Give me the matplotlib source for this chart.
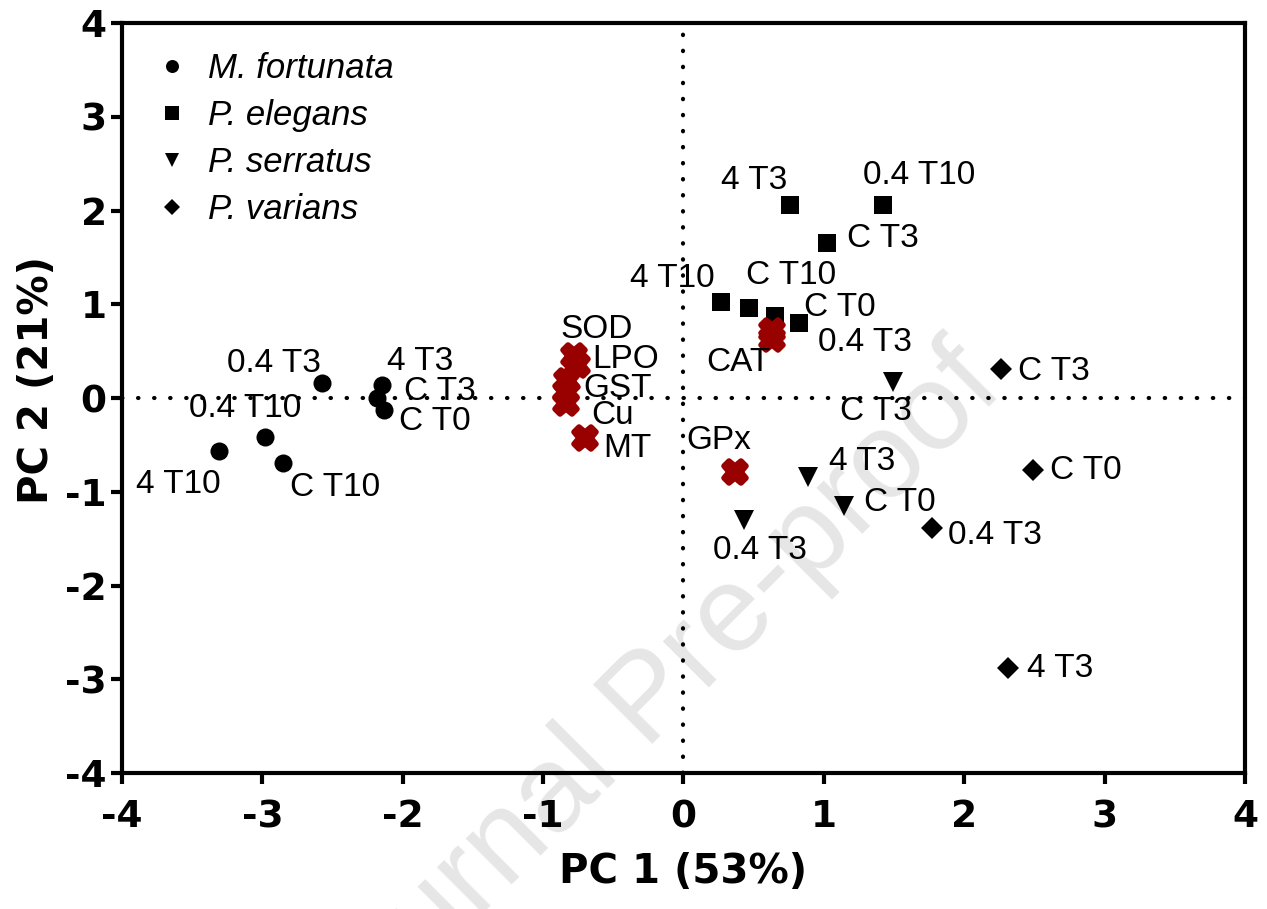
import matplotlib
matplotlib.use("Agg")
import matplotlib.pyplot as plt
from matplotlib.lines import Line2D
from matplotlib.markers import MarkerStyle

plt.rcParams["axes.unicode_minus"] = False

# PCA scores (PC1, PC2) per species
fort_x = [-2.575, -2.15, -2.18, -2.13, -2.98, -3.31, -2.85]
fort_y = [0.16, 0.14, 0.0, -0.13, -0.42, -0.57, -0.69]
fort_lab = ["0.4 T3", "4 T3", "C T3", "C T0", "0.4 T10", "4 T10", "C T10"]

eleg_x = [0.76, 1.42, 1.02, 0.27, 0.47, 0.65, 0.82]
eleg_y = [2.06, 2.06, 1.65, 1.02, 0.96, 0.87, 0.80]
eleg_lab = ["4 T3", "0.4 T10", "C T3", "4 T10", "C T10", "C T0", "0.4 T3"]

serr_x = [1.49, 0.89, 1.14, 0.43]
serr_y = [0.17, -0.84, -1.15, -1.30]
serr_lab = ["C T3", "4 T3", "C T0", "0.4 T3"]

vari_x = [2.26, 2.49, 1.77, 2.31]
vari_y = [0.31, -0.77, -1.39, -2.88]
vari_lab = ["C T3", "C T0", "0.4 T3", "4 T3"]

# variable loadings
var_x = [-0.78, -0.76, -0.83, -0.84, -0.84, -0.70, 0.63, 0.63, 0.37]
var_y = [0.45, 0.35, 0.18, 0.06, -0.05, -0.43, 0.71, 0.63, -0.79]
var_lab = ["SOD", "LPO", "GST", "", "Cu", "MT", "", "CAT", "GPx"]

# label placement (ha, dx px, dy px)
fort_pos = [("center", -48, 20), ("left", 5, 23), ("left", 27, 7), ("left", 15, -11),
            ("center", -20, 29), ("center", -41, -33), ("left", 7, -25)]
eleg_pos = [("right", -3, 24), ("center", 36, 29), ("left", 20, 5), ("right", -7, 24),
            ("center", 42, 33), ("left", 29, 9), ("left", 19, -19)]
serr_pos = [("center", -17, -29), ("left", 21, 15), ("left", 20, 3), ("center", 16, -31)]
vari_pos = [("left", 17, -3), ("left", 17, 0), ("left", 16, -7), ("left", 19, 0)]
var_pos = [("center", 23, 26), ("left", 15, 6), ("left", 16, -7), ("left", 0, 0),
           ("left", 26, -13), ("left", 18, -10), ("left", 0, 0), ("center", -34, -24),
           ("center", -17, 32)]

FONT = "Liberation Sans"
BOLD = "DejaVu Sans"
FS = 24

fig = plt.figure(figsize=(12.67, 9.09), dpi=100)
ax = fig.add_axes([0.0963, 0.1496, 0.8863, 0.8251])
ax.set_facecolor("none")
ax.set_zorder(2)

# watermark
fig.text(0.2668, -0.164, "Journal Pre-proof", rotation=45, rotation_mode="anchor",
         ha="left", va="baseline", fontsize=88, color="#e6e6e6", family=FONT, zorder=0)

ax.axhline(0, color="black", lw=3, ls=(0, (0.1, 3.75)), dash_capstyle="round", zorder=1)
ax.axvline(0, color="black", lw=3, ls=(0, (0.1, 3.75)), dash_capstyle="round", zorder=1)

groups = [
    (fort_x, fort_y, fort_lab, fort_pos, "o", 13),
    (eleg_x, eleg_y, eleg_lab, eleg_pos, "s", 13.5),
    (serr_x, serr_y, serr_lab, serr_pos, "v", 14),
    (vari_x, vari_y, vari_lab, vari_pos, "D", 11),
]
for xs, ys, labs, pos, mk, ms in groups:
    ax.plot(xs, ys, ls="none", marker=mk, ms=ms, color="black", mew=0, zorder=3)
    for x, y, t, (ha, dx, dy) in zip(xs, ys, labs, pos):
        ax.annotate(t, (x, y), xytext=(dx, dy), textcoords="offset pixels",
                    ha=ha, va="center", fontsize=FS, family=FONT, zorder=4)

ax.plot(var_x, var_y, ls="none", marker=MarkerStyle("X", joinstyle="round"), ms=16,
        color="#990000", mec="#990000", mew=4, zorder=3)
for x, y, t, (ha, dx, dy) in zip(var_x, var_y, var_lab, var_pos):
    if t:
        ax.annotate(t, (x, y), xytext=(dx, dy), textcoords="offset pixels",
                    ha=ha, va="center", fontsize=FS, family=FONT, zorder=4)

ax.set_xlim(-4, 4)
ax.set_ylim(-4, 4)
ax.set_xticks(range(-4, 5))
ax.set_yticks(range(-4, 5))
for s in ax.spines.values():
    s.set_linewidth(3)
ax.tick_params(direction="out", length=8, width=3, labelsize=27)
ax.tick_params(axis="x", pad=11)
ax.tick_params(axis="y", pad=3)
for lbl in ax.get_xticklabels() + ax.get_yticklabels():
    lbl.set_fontweight("bold")
    lbl.set_family(BOLD)

ax.set_xlabel("PC 1 (53%)", fontsize=29, fontweight="bold", family=BOLD, labelpad=12)
ax.set_ylabel("PC 2 (21%)", fontsize=29, fontweight="bold", family=BOLD)
ax.yaxis.set_label_coords(-0.058, 0.524)

species = ["M. fortunata", "P. elegans", "P. serratus", "P. varians"]
handles = [Line2D([], [], ls="none", marker=g[4], ms=g[5] * 0.72, color="black", mew=0)
           for g in groups]
ax.legend(handles, species, loc="upper left", bbox_to_anchor=(0.026, 0.961),
          frameon=False, prop={"family": FONT, "style": "italic", "size": 25},
          handletextpad=0.43, labelspacing=0.4, handlelength=1.2,
          borderaxespad=0, borderpad=0)

fig.savefig("out.png", dpi=100)
